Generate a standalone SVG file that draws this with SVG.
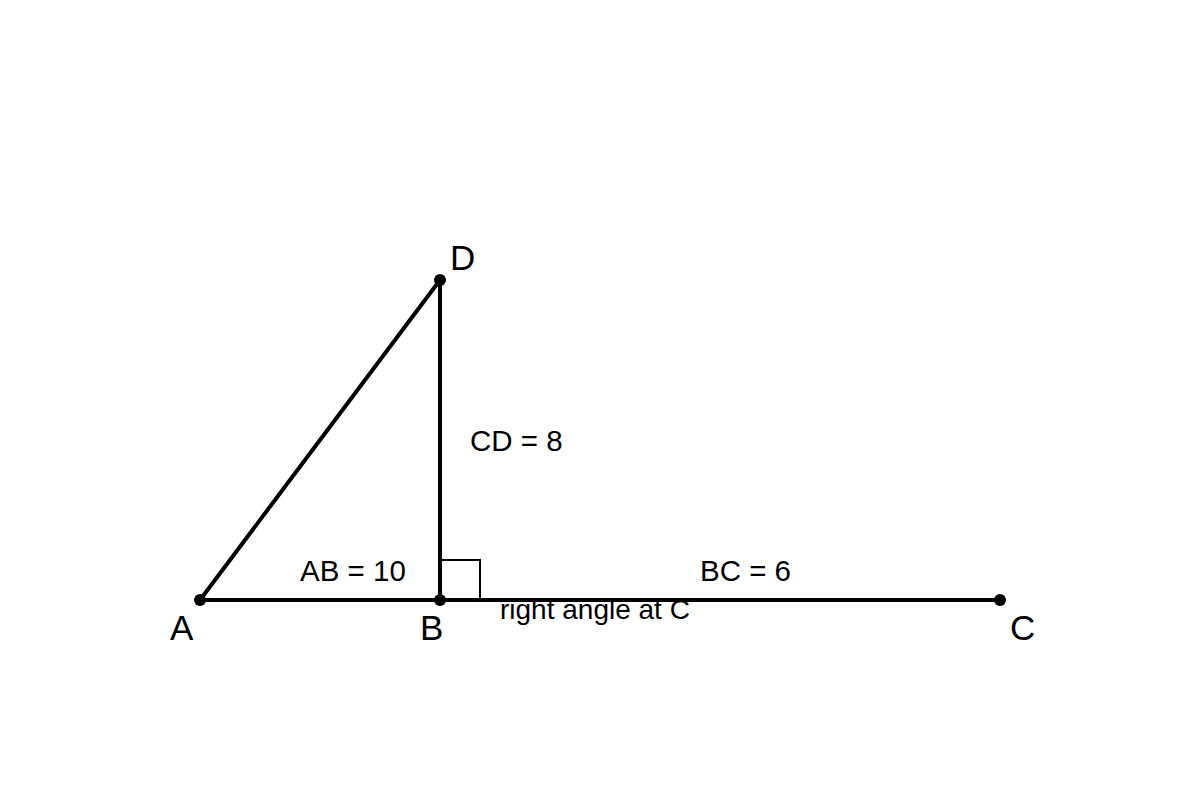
<svg xmlns="http://www.w3.org/2000/svg" width="1200" height="800" viewBox="0 0 1200 800">
<style>
.seg{stroke:#000;stroke-width:4;fill:none;stroke-linecap:round}
.mark{stroke:#000;stroke-width:2;fill:none}
.pt{fill:#000}
.lbl{font-family:"Liberation Sans",Arial,sans-serif;font-size:35px;fill:#000}
.len{font-family:"Liberation Sans",Arial,sans-serif;font-size:29.5px;fill:#000}
.note{font-family:"Liberation Sans",Arial,sans-serif;font-size:28px;fill:#000}
</style>
<rect width="1200" height="800" fill="#fff"/>
<g id="connectors">
<line class="seg" x1="200" y1="600" x2="1000" y2="600"/>
<line class="seg" x1="440" y1="600" x2="440" y2="280"/>
<line class="seg" x1="200" y1="600" x2="440" y2="280"/>
<polyline class="mark" points="440,560 480,560 480,600"/>
</g>
<g id="A"><circle class="pt" cx="200" cy="600" r="6"/><text class="lbl" x="170" y="640">A</text></g>
<g id="B"><circle class="pt" cx="440" cy="600" r="6"/><text class="lbl" x="420" y="640">B</text></g>
<g id="C"><circle class="pt" cx="1000" cy="600" r="6"/><text class="lbl" x="1010" y="640">C</text></g>
<g id="D"><circle class="pt" cx="440" cy="280" r="6"/><text class="lbl" x="450" y="270">D</text></g>
<g id="labels">
<text class="len" x="300" y="581">AB = 10</text>
<text class="len" x="700" y="581">BC = 6</text>
<text class="len" x="470" y="451">CD = 8</text>
<text class="note" x="500" y="619">right angle at C</text>
</g>
</svg>
